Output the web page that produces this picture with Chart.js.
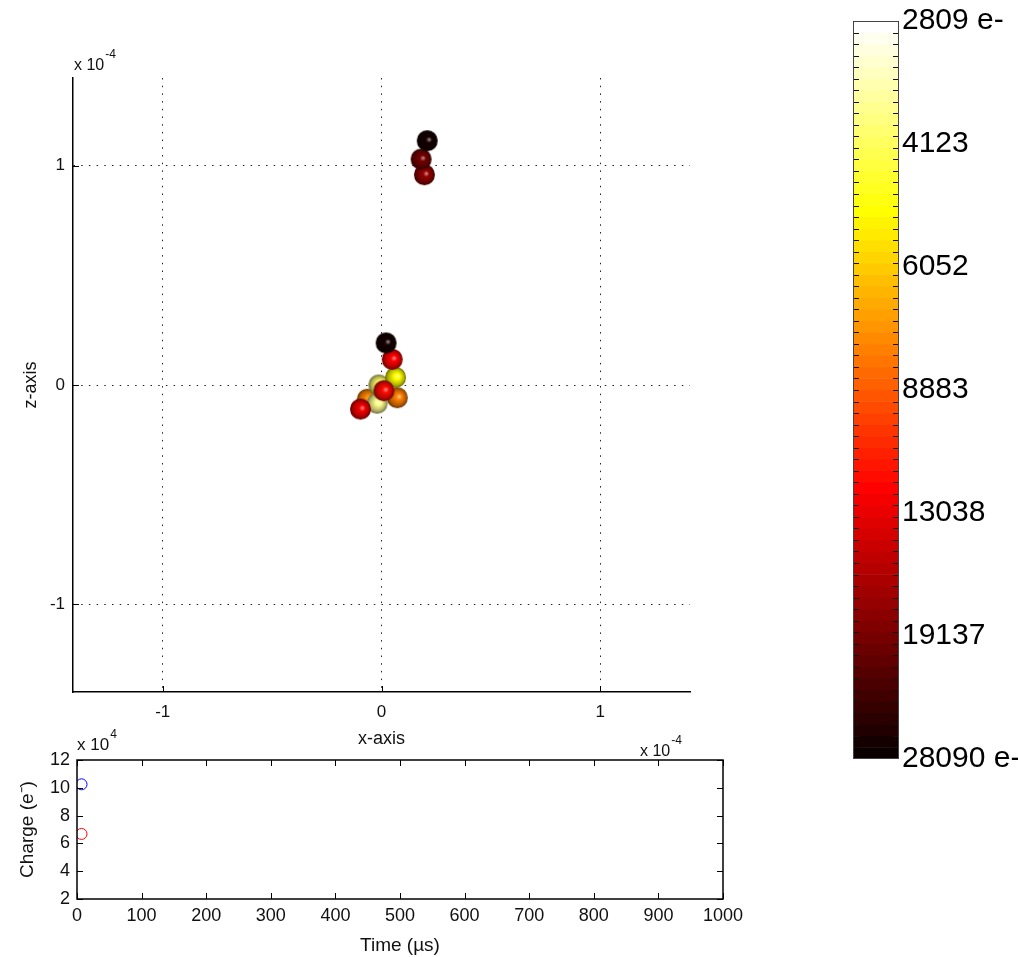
<!DOCTYPE html>
<html>
<head>
<meta charset="utf-8">
<script src="https://cdn.jsdelivr.net/npm/chart.js@4.4.1/dist/chart.umd.min.js"></script>
<style>
  html, body { margin: 0; padding: 0; background: #fff; }
  #wrap { position: relative; width: 1018px; height: 957px; overflow: hidden; }
  canvas { position: absolute; }
</style>
</head>
<body>
<div id="wrap">
  <canvas id="main" width="720" height="760" style="left:0;top:0"></canvas>
  <canvas id="time" width="760" height="237" style="left:0;top:720px"></canvas>
  <canvas id="cbar" width="188" height="780" style="left:830px;top:0"></canvas>
</div>
<script>
// positions in units of 1e-4 (x, z) and charge of each cluster in electrons
const xPos   = [0.196, 0.181, 0.209, -0.065, -0.012, -0.020, 0.072, 0.064, 0.049, 0.021, 0.011, -0.096];
const zPos   = [0.959, 1.030, 1.114, -0.065, 0.000, -0.083, -0.058, 0.035, 0.117, 0.192, -0.026, -0.110];
const charge = [17500, 19500, 27000, 7500, 3900, 3700, 7800, 5000, 12000, 26500, 11500, 12500];
const xTicks = [-1, 0, 1];
const zTicks = [-1, 0, 1];

// colorbar
const cbTicks = [2809, 4123, 6052, 8883, 13038, 19137, 28090];

// charge vs time (charge in units of 1e4)
const timeUs     = [7];
const chargeBlue = [10.25];
const chargeRed  = [6.68];
const timeTicks   = [0, 100, 200, 300, 400, 500, 600, 700, 800, 900, 1000];
const chargeTicks = [2, 4, 6, 8, 10, 12];

const FONT = "'Liberation Sans', Arial, sans-serif";
const INK = '#111';
Chart.defaults.font.family = FONT;
Chart.defaults.color = INK;

const cbMin = cbTicks[0], cbMax = cbTicks[cbTicks.length - 1];
const nBands = 64;

// matlab hot(64)
function hot(j) {
  const n = 24, m = nBands;
  const r = Math.min(1, (j + 1) / n);
  const g = Math.max(0, Math.min(1, (j + 1 - n) / n));
  const b = Math.max(0, Math.min(1, (j + 1 - 2 * n) / (m - 2 * n)));
  return [r, g, b];
}
function rgb(c, k) {
  k = k === undefined ? 1 : k;
  return 'rgb(' + c.map(v => Math.round(Math.min(255, v * k * 255))).join(',') + ')';
}
function mixWhite(c, a) {
  return 'rgb(' + c.map(v => Math.round((v * (1 - a) + a) * 255)).join(',') + ')';
}
function chargeIndex(q) {
  const t = Math.log(q / cbMin) / Math.log(cbMax / cbMin);
  return Math.max(0, Math.min(nBands - 1, nBands - 1 - Math.floor(t * nBands)));
}
function sphere(c, r) {
  const cv = document.createElement('canvas');
  const s = Math.ceil(2 * r + 2);
  cv.width = cv.height = s;
  const g = cv.getContext('2d');
  const cx = s / 2, cy = s / 2;
  const grad = g.createRadialGradient(cx + 0.22 * r, cy - 0.12 * r, 0, cx, cy, r);
  grad.addColorStop(0, mixWhite(c, 0.6));
  grad.addColorStop(0.28, rgb(c));
  grad.addColorStop(0.75, rgb(c, 0.7));
  grad.addColorStop(1, rgb(c, 0.4));
  g.fillStyle = grad;
  g.beginPath();
  g.arc(cx, cy, r, 0, Math.PI * 2);
  g.fill();
  return cv;
}

function exponent(ctx, x, y, base, sup, size) {
  ctx.save();
  ctx.fillStyle = INK;
  ctx.textBaseline = 'alphabetic';
  ctx.textAlign = 'left';
  ctx.font = size + 'px ' + FONT;
  ctx.fillText(base, x, y);
  const w = ctx.measureText(base).width;
  ctx.font = Math.round(size * 0.72) + 'px ' + FONT;
  ctx.fillText(sup, x + w + 1, y - 12);
  ctx.restore();
}

// inward tick marks
function inTicks(ctx, chart, sides) {
  const a = chart.chartArea, xs = chart.scales.x, ys = chart.scales.y;
  ctx.save();
  ctx.strokeStyle = '#000';
  ctx.lineWidth = 1;
  ctx.beginPath();
  xs.ticks.forEach(t => {
    const p = Math.round(xs.getPixelForValue(t.value)) + 0.5;
    if (sides.bottom) { ctx.moveTo(p, a.bottom); ctx.lineTo(p, a.bottom - 6); }
    if (sides.top) { ctx.moveTo(p, a.top); ctx.lineTo(p, a.top + 6); }
  });
  ys.ticks.forEach(t => {
    const p = Math.round(ys.getPixelForValue(t.value)) + 0.5;
    if (sides.left) { ctx.moveTo(a.left, p); ctx.lineTo(a.left + 6, p); }
    if (sides.right) { ctx.moveTo(a.right, p); ctx.lineTo(a.right - 6, p); }
  });
  ctx.stroke();
  ctx.restore();
}

const mainDecor = {
  id: 'mainDecor',
  afterDraw(chart) {
    const ctx = chart.ctx;
    inTicks(ctx, chart, { bottom: true, left: true });
    exponent(ctx, 74, 70, 'x 10', '-4', 16);
    exponent(ctx, 640, 756, 'x 10', '-4', 16);
  }
};

new Chart(document.getElementById('main'), {
  type: 'scatter',
  data: {
    datasets: [{
      data: xPos.map((x, i) => ({ x: x, y: zPos[i] })),
      pointStyle: charge.map(q => sphere(hot(chargeIndex(q)), 10.5)),
      pointHoverRadius: 0
    }]
  },
  options: {
    responsive: false,
    devicePixelRatio: 1,
    animation: false,
    events: [],
    layout: { padding: { left: 16, top: 78, right: 30, bottom: 6 } },
    plugins: { legend: { display: false }, tooltip: { enabled: false } },
    scales: {
      x: {
        type: 'linear', min: -1.41, max: 1.41,
        afterBuildTicks: s => { s.ticks = xTicks.map(v => ({ value: v })); },
        afterFit: s => { s.height = 62; },
        grid: { color: '#222', lineWidth: 1, drawTicks: false },
        border: { display: true, color: '#000', width: 1.5, dash: [1.5, 6.2] },
        ticks: { padding: 10, font: { size: 17 }, callback: v => String(v) },
        title: { display: true, text: 'x-axis', font: { size: 18 }, padding: { top: 0, bottom: 4 } }
      },
      y: {
        type: 'linear', min: -1.4, max: 1.4,
        afterBuildTicks: s => { s.ticks = zTicks.map(v => ({ value: v })); },
        afterFit: s => { s.width = 57; },
        grid: { color: '#222', lineWidth: 1, drawTicks: false },
        border: { display: true, color: '#000', width: 1.5, dash: [1.5, 6.2] },
        ticks: { padding: 8, font: { size: 17 }, callback: v => String(v) },
        title: { display: true, text: 'z-axis', font: { size: 18 }, padding: { top: 4, bottom: 0 } }
      }
    }
  },
  plugins: [mainDecor]
});

const timeDecor = {
  id: 'timeDecor',
  afterDraw(chart) {
    const ctx = chart.ctx, a = chart.chartArea;
    ctx.save();
    ctx.strokeStyle = '#000';
    ctx.lineWidth = 1.5;
    ctx.strokeRect(a.left, a.top, a.right - a.left, a.bottom - a.top);
    ctx.restore();
    inTicks(ctx, chart, { bottom: true, top: true, left: true, right: true });
    exponent(ctx, 77, 30, 'x 10', '4', 17);
  }
};

new Chart(document.getElementById('time'), {
  type: 'scatter',
  data: {
    datasets: [
      { data: timeUs.map((t, i) => ({ x: t, y: chargeBlue[i] })), borderColor: '#0000ff',
        backgroundColor: 'rgba(0,0,0,0)', borderWidth: 1, pointRadius: 5.5 },
      { data: timeUs.map((t, i) => ({ x: t, y: chargeRed[i] })), borderColor: '#ff0000',
        backgroundColor: 'rgba(0,0,0,0)', borderWidth: 1, pointRadius: 5.5 }
    ]
  },
  options: {
    responsive: false,
    devicePixelRatio: 1,
    animation: false,
    events: [],
    layout: { padding: { left: 12, top: 40, right: 37, bottom: 0 } },
    plugins: { legend: { display: false }, tooltip: { enabled: false } },
    scales: {
      x: {
        type: 'linear', min: 0, max: 1000,
        afterBuildTicks: s => { s.ticks = timeTicks.map(v => ({ value: v })); },
        afterFit: s => { s.height = 58; },
        grid: { display: false, drawTicks: false },
        border: { display: false },
        ticks: { padding: 6, font: { size: 18 }, maxRotation: 0, autoSkip: false, callback: v => String(v) },
        title: { display: true, text: 'Time (µs)', font: { size: 19 }, padding: { top: 0, bottom: 0 } }
      },
      y: {
        type: 'linear', min: 2, max: 12,
        afterBuildTicks: s => { s.ticks = chargeTicks.map(v => ({ value: v })); },
        afterFit: s => { s.width = 65; },
        grid: { display: false, drawTicks: false },
        border: { display: false },
        ticks: { padding: 7, font: { size: 18 }, autoSkip: false, callback: v => String(v) },
        title: { display: true, text: 'Charge (e⁻)', font: { size: 19 }, padding: { top: 4, bottom: 0 } }
      }
    }
  },
  plugins: [timeDecor]
});

// colorbar: one floating bar per colormap level, on a log charge axis
const bands = [];
for (let k = 0; k < nBands; k++) {
  const lo = cbMin * Math.pow(cbMax / cbMin, k / nBands);
  const hi = cbMin * Math.pow(cbMax / cbMin, (k + 1) / nBands);
  bands.push({
    data: [[lo, hi]],
    backgroundColor: rgb(hot(nBands - 1 - k)),
    borderWidth: 0,
    barPercentage: 1,
    categoryPercentage: 1,
    grouped: false
  });
}

const cbarDecor = {
  id: 'cbarDecor',
  afterDraw(chart) {
    const ctx = chart.ctx, a = chart.chartArea, ys = chart.scales.y;
    ctx.save();
    ctx.strokeStyle = '#111';
    ctx.lineWidth = 1;
    ctx.beginPath();
    for (let k = 1; k < nBands; k++) {
      const v = cbMin * Math.pow(cbMax / cbMin, k / nBands);
      const p = Math.round(ys.getPixelForValue(v)) + 0.5;
      ctx.moveTo(a.left, p); ctx.lineTo(a.left + 6, p);
      ctx.moveTo(a.right, p); ctx.lineTo(a.right - 6, p);
    }
    ctx.stroke();
    ctx.strokeStyle = '#444';
    ctx.strokeRect(Math.round(a.left) + 0.5, Math.round(a.top) + 0.5,
      Math.round(a.right - a.left) - 1, Math.round(a.bottom - a.top) - 1);
    ctx.restore();
  }
};

new Chart(document.getElementById('cbar'), {
  type: 'bar',
  data: { labels: ['q'], datasets: bands },
  options: {
    responsive: false,
    devicePixelRatio: 1,
    animation: false,
    events: [],
    layout: { padding: { left: 23, top: 15, right: 0, bottom: 20 } },
    plugins: { legend: { display: false }, tooltip: { enabled: false } },
    scales: {
      x: { display: false },
      y: {
        type: 'logarithmic', position: 'right', reverse: true, min: cbMin, max: cbMax,
        afterBuildTicks: s => { s.ticks = cbTicks.map(v => ({ value: v })); },
        afterFit: s => { s.width = 119; },
        grid: { display: false, drawTicks: false },
        border: { display: false },
        ticks: {
          padding: 3, color: '#000', font: { size: 30 }, autoSkip: false,
          callback: (v, i) => (i === 0 || i === cbTicks.length - 1) ? v + ' e-' : String(v)
        }
      }
    }
  },
  plugins: [cbarDecor]
});
</script>
</body>
</html>
